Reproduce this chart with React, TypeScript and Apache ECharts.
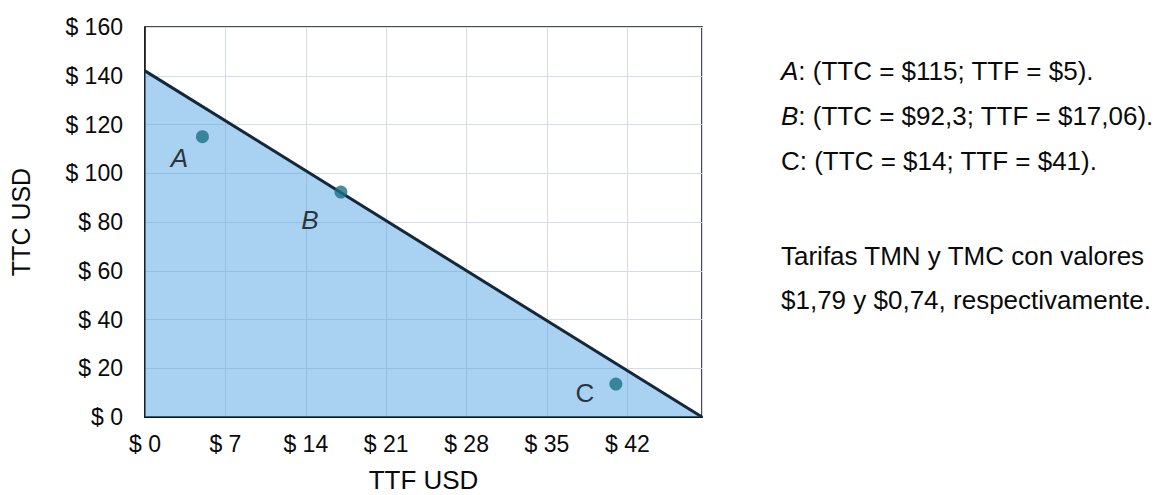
import React, { useEffect, useRef } from "react";
import * as echarts from "echarts";

const FONT = "'Liberation Sans', Arial, sans-serif";

// Budget line (TTF, TTC)
const lineX = [0, 48.5];
const lineY = [142, 0];

// Points
const pointNames = ["A", "B", "C"];
const pointTTF = [5, 17.06, 41];
const pointTTC = [115, 92.3, 13.5];
const pointItalic = [true, true, false];
const pointLabelOffsets = [
  [-23, 21],
  [-31, 28],
  [-31, 9],
];

// Axes
const xMin = 0;
const xMax = 48.5;
const xInterval = 7;
const yMin = 0;
const yMax = 160;
const yInterval = 20;
const xName = "TTF USD";
const yName = "TTC USD";

// Annotation text
const notePrefixes = ["A", "B", "C"];
const noteBodies = [
  ": (TTC = $115; TTF = $5).",
  ": (TTC = $92,3; TTF = $17,06).",
  ": (TTC = $14; TTF = $41).",
];
const noteItalic = [true, true, false];
const tariffLines = [
  "Tarifas TMN y TMC con valores",
  "$1,79 y $0,74, respectivamente.",
];

export default function App() {
  const ref = useRef<HTMLDivElement>(null);

  useEffect(() => {
    if (!ref.current) return;
    const chart = echarts.init(ref.current, undefined, { renderer: "svg" });

    const noteY = [73, 118, 163];
    const tariffY = [258, 302];
    const TXT = "#0a0a0a";

    const graphics: any[] = [];
    notePrefixes.forEach((p, i) => {
      graphics.push({
        type: "text",
        left: 781,
        top: noteY[i] - 15,
        style: {
          text: `{p|${p}}{b|${noteBodies[i]}}`,
          fill: TXT,
          font: `26px ${FONT}`,
          rich: {
            p: {
              fontSize: 26,
              fontFamily: FONT,
              fontStyle: noteItalic[i] ? "italic" : "normal",
              fill: TXT,
            },
            b: { fontSize: 26, fontFamily: FONT, fill: TXT },
          },
        },
      });
    });
    tariffLines.forEach((t, i) => {
      graphics.push({
        type: "text",
        left: 781,
        top: tariffY[i] - 15,
        style: { text: t, fill: TXT, font: `26px ${FONT}` },
      });
    });

    chart.setOption({
      animation: false,
      backgroundColor: "#ffffff",
      grid: {
        left: 145,
        top: 27,
        right: 1159 - 702,
        bottom: 495 - 417,
        containLabel: false,
        outerBoundsMode: "none",
        show: true,
        borderColor: "#111",
        borderWidth: 1.5,
        backgroundColor: "transparent",
      },
      xAxis: {
        type: "value",
        min: xMin,
        max: xMax,
        interval: xInterval,
        name: xName,
        nameLocation: "middle",
        nameGap: 50,
        nameTextStyle: { fontFamily: FONT, fontSize: 26, color: TXT },
        axisLine: { show: true, lineStyle: { color: "#111", width: 2 } },
        axisTick: { show: false },
        axisLabel: {
          showMaxLabel: false,
          margin: 15,
          fontFamily: FONT,
          fontSize: 23,
          color: TXT,
          formatter: (v: number) => `$ ${v}`,
        },
        splitLine: { show: true, lineStyle: { color: "#d3dbe5", width: 1 } },
      },
      yAxis: {
        type: "value",
        min: yMin,
        max: yMax,
        interval: yInterval,
        name: yName,
        nameLocation: "middle",
        nameGap: 112,
        nameRotate: 90,
        nameTextStyle: { fontFamily: FONT, fontSize: 25, color: TXT },
        axisLine: { show: true, lineStyle: { color: "#111", width: 1.5 } },
        axisTick: { show: false },
        axisLabel: {
          margin: 22,
          fontFamily: FONT,
          fontSize: 23,
          color: TXT,
          formatter: (v: number) => `$ ${v}`,
        },
        splitLine: { show: true, lineStyle: { color: "#d3dbe5", width: 1 } },
      },
      series: [
        {
          type: "line",
          data: lineX.map((x, i) => [x, lineY[i]]),
          symbol: "none",
          lineStyle: { color: "#15283a", width: 3 },
          areaStyle: { color: "rgba(83,163,227,0.5)", opacity: 1 },
          z: 2,
        },
        {
          type: "scatter",
          symbolSize: 13,
          itemStyle: { color: "#1b7186" },
          z: 3,
          data: pointNames.map((n, i) => ({
            name: n,
            value: [pointTTF[i], pointTTC[i]],
            label: {
              show: true,
              formatter: n,
              position: "inside",
              offset: pointLabelOffsets[i],
              fontFamily: FONT,
              fontSize: 26,
              fontStyle: pointItalic[i] ? "italic" : "normal",
              color: TXT,
            },
          })),
        },
      ],
      graphic: graphics,
    });

    return () => chart.dispose();
  }, []);

  return (
    <div
      ref={ref}
      style={{
        position: "fixed",
        left: 0,
        top: 0,
        width: 1159,
        height: 495,
      }}
    />
  );
}
